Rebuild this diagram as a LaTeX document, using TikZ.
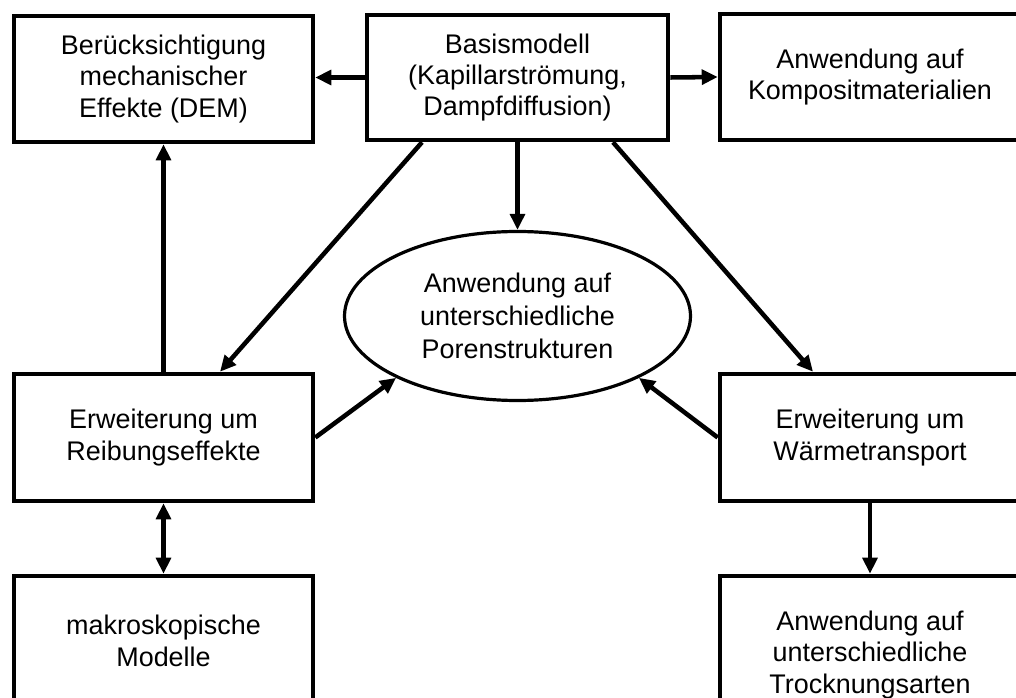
\documentclass[tikz,border=0pt]{standalone}
\usepackage{fontspec}
\setmainfont{Liberation Sans}
\usetikzlibrary{arrows.meta,shapes.geometric,calc}
\tikzset{
  box/.style={draw, line width=3.4pt, rectangle, inner sep=0pt, align=center,
    font=\fontsize{20.2pt}{23.5pt}\selectfont},
  ellbox/.style={draw, line width=2.4pt, ellipse, inner sep=0pt, align=center,
    minimum width=259.5pt, minimum height=126.75pt,
    font=\fontsize{20.2pt}{24.5pt}\selectfont},
  conn/.style={line width=3.4pt, -{Triangle[length=12pt,width=11pt]}},
  bconn/.style={line width=3.4pt, {Triangle[length=12pt,width=11pt]}-{Triangle[length=12pt,width=11pt]}}
}
\begin{document}
\begin{tikzpicture}[x=0.75pt,y=-0.75pt]
\useasboundingbox[fill=white] (0,0) rectangle (1016,698);
\node[box, minimum width=224.25pt, minimum height=94.5pt] (tl) at (163.5,79)
  {Berücksichtigung\\mechanischer\\Effekte (DEM)};
\node[box, minimum width=225.75pt, minimum height=93.75pt] (tc) at (517.5,77.5)
  {Basismodell\\(Kapillarströmung,\\Dampfdiffusion)};
\node[box, minimum width=225pt, minimum height=94.5pt] (tr) at (870,77)
  {Anwendung auf\\Kompositmaterialien};
\node[ellbox] (ell) at (517.5,316)
  {Anwendung auf\\unterschiedliche\\Porenstrukturen};
\node[box, minimum width=224.25pt, minimum height=95.25pt] (ml) at (163.5,437.5)
  {Erweiterung um\\Reibungseffekte};
\node[box, minimum width=225pt, minimum height=95.25pt] (mr) at (870,437.5)
  {Erweiterung um\\Wärmetransport};
\node[box, minimum width=224.25pt, minimum height=97.5pt] (bl) at (163.5,641)
  {makroskopische\\Modelle};
\node[box, minimum width=225pt, minimum height=118.5pt] (br) at (870,655)
  {Anwendung auf\\unterschiedliche\\Trocknungsarten};

\draw[conn] (tc.west) -- (tl.east |- tc.west);
\draw[conn] (tc.east) -- (tr.west);
\draw[conn] (tc.south) -- (ell.north);
\draw[conn] ($(tc.south)+(-95.5,0)$) -- ($(ml.north)+(56.5,0)$);
\draw[conn] ($(tc.south)+(95.5,0)$) -- ($(mr.north)+(-57,0)$);
\draw[conn] (ml.north) -- (tl.south);
\draw[conn] (ml.east) -- (ell.207);
\draw[conn] (mr.west) -- (ell.-27);
\draw[bconn] (ml.south) -- (bl.north);
\draw[conn] (mr.south) -- (br.north);
\end{tikzpicture}
\end{document}
